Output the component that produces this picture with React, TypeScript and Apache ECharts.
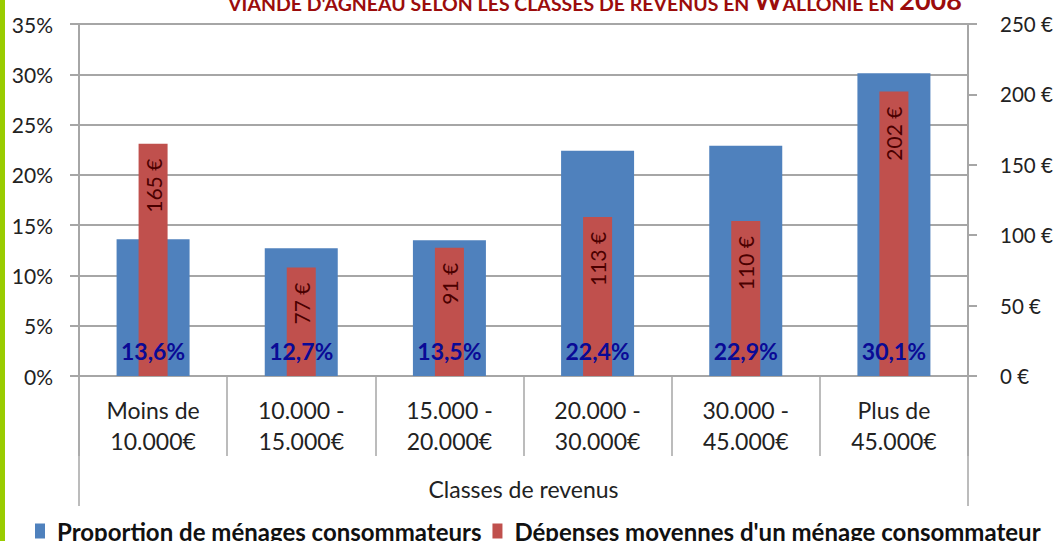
import React, { useEffect, useRef } from "react";
import * as echarts from "echarts";

const categories = [
  "Moins de\n10.000€",
  "10.000 -\n15.000€",
  "15.000 -\n20.000€",
  "20.000 -\n30.000€",
  "30.000 -\n45.000€",
  "Plus de\n45.000€",
];
const proportionValues = [13.6, 12.7, 13.5, 22.4, 22.9, 30.1];
const depensesValues = [165, 77, 91, 113, 110, 202];
const seriesNames = [
  "Proportion de ménages consommateurs",
  "Dépenses moyennes d'un ménage consommateur",
];
const xAxisName = "Classes de revenus";

const FONT = "Lato, 'Open Sans', sans-serif";
const GRID = { left: 79, right: 93, top: 24, bottom: 165 };
const W = 1061;
const H = 541;
const GRAY = "#a6a6a6";

export default function App() {
  const ref = useRef<HTMLDivElement>(null);
  useEffect(() => {
    if (!ref.current) return;
    const chart = echarts.init(ref.current, undefined, { renderer: "svg" });
    const plotBottom = H - GRID.bottom;
    const xl = GRID.left;
    const xr = W - GRID.right;
    const pctLabel = (p: any) => String(p.value).replace(".", ",") + "%";
    chart.setOption({
      animation: false,
      backgroundColor: "#ffffff",
      textStyle: { fontFamily: FONT },
      title: {
        text:
          "{s|VIANDE D'AGNEAU SELON LES CLASSES DE REVENUS EN }{b|W}{s|ALLONIE EN }{b|2008}",
        left: 590,
        textAlign: "center",
        top: -19,
        textStyle: {
          rich: {
            s: { fontFamily: FONT, fontSize: 19.5, fontWeight: "bold", color: "#9b0c0c", verticalAlign: "bottom" },
            b: { fontFamily: FONT, fontSize: 27, fontWeight: "bold", color: "#9b0c0c", verticalAlign: "bottom" },
          },
        },
      },
      legend: {
        left: 30,
        top: 514,
        itemWidth: 10,
        itemHeight: 15,
        itemGap: 11,
        icon: "rect",
        textStyle: {
          fontFamily: FONT,
          fontSize: 24,
          fontWeight: "bold",
          color: "#111",
          lineHeight: 20,
          padding: [0, 0, 0, 7],
        },
        data: seriesNames,
      },
      grid: { left: GRID.left, right: GRID.right, top: GRID.top, bottom: GRID.bottom, containLabel: false },
      xAxis: [
        {
          type: "category",
          data: categories,
          position: "bottom",
          name: xAxisName,
          nameLocation: "middle",
          nameGap: 101,
          nameTextStyle: { fontFamily: FONT, fontSize: 23, color: "#222" },
          axisLine: { show: true, lineStyle: { color: GRAY, width: 2 } },
          axisTick: { show: true, length: 80, lineStyle: { color: GRAY, width: 1.5 } },
          axisLabel: { margin: 18, fontFamily: FONT, fontSize: 23, color: "#222", lineHeight: 31 },
        },
        { type: "category", data: categories, show: false },
        { type: "category", data: categories, show: false },
      ],
      yAxis: [
        {
          type: "value",
          min: 0,
          max: 35,
          interval: 5,
          axisLine: { show: true, lineStyle: { color: GRAY, width: 2 } },
          axisTick: { show: true, length: 9, lineStyle: { color: GRAY, width: 2 } },
          splitLine: { show: true, lineStyle: { color: GRAY, width: 2 } },
          axisLabel: { formatter: "{value}%", margin: 26, fontFamily: FONT, fontSize: 21, color: "#222" },
        },
        {
          type: "value",
          min: 0,
          max: 250,
          interval: 50,
          position: "right",
          axisLine: { show: true, lineStyle: { color: GRAY, width: 2 } },
          axisTick: { show: true, length: 9, lineStyle: { color: GRAY, width: 2 } },
          splitLine: { show: false },
          axisLabel: { formatter: "{value} €", margin: 32, fontFamily: FONT, fontSize: 20.5, color: "#222" },
        },
      ],
      series: [
        {
          name: seriesNames[0],
          type: "bar",
          xAxisIndex: 0,
          yAxisIndex: 0,
          data: proportionValues,
          barWidth: 73,
          itemStyle: { color: "#4f81bd" },
          z: 2,
        },
        {
          name: seriesNames[1],
          type: "bar",
          xAxisIndex: 1,
          yAxisIndex: 1,
          data: depensesValues,
          barWidth: 29,
          itemStyle: { color: "#c0504d" },
          label: {
            show: true,
            position: "insideTop",
            distance: 15,
            rotate: 90,
            align: "right",
            verticalAlign: "middle",
            formatter: "{c} €",
            fontFamily: FONT,
            fontSize: 21,
            color: "#4a0000",
          },
          z: 3,
        },
        {
          name: "labels-proportion",
          type: "bar",
          xAxisIndex: 2,
          yAxisIndex: 0,
          data: proportionValues,
          barWidth: 73,
          itemStyle: { color: "rgba(0,0,0,0)" },
          label: {
            show: true,
            position: "insideBottom",
            distance: 14,
            formatter: pctLabel,
            fontFamily: FONT,
            fontSize: 23,
            fontWeight: "bold",
            color: "#0a0a96",
          },
          silent: true,
          z: 5,
        },
      ],
      graphic: [
        {
          type: "rect",
          shape: { x: 0, y: 0, width: 5, height: H },
          style: { fill: "#99cc00" },
          silent: true,
        },
        {
          type: "line",
          shape: { x1: xl, y1: plotBottom, x2: xl, y2: 506 },
          style: { stroke: GRAY, lineWidth: 1.5 },
          silent: true,
        },
        {
          type: "line",
          shape: { x1: xr, y1: plotBottom, x2: xr, y2: 506 },
          style: { stroke: GRAY, lineWidth: 1.5 },
          silent: true,
        },
      ],
    });
    return () => chart.dispose();
  }, []);
  return (
    <div
      ref={ref}
      style={{ position: "fixed", left: 0, top: 0, width: W, height: H, background: "#fff" }}
    />
  );
}
